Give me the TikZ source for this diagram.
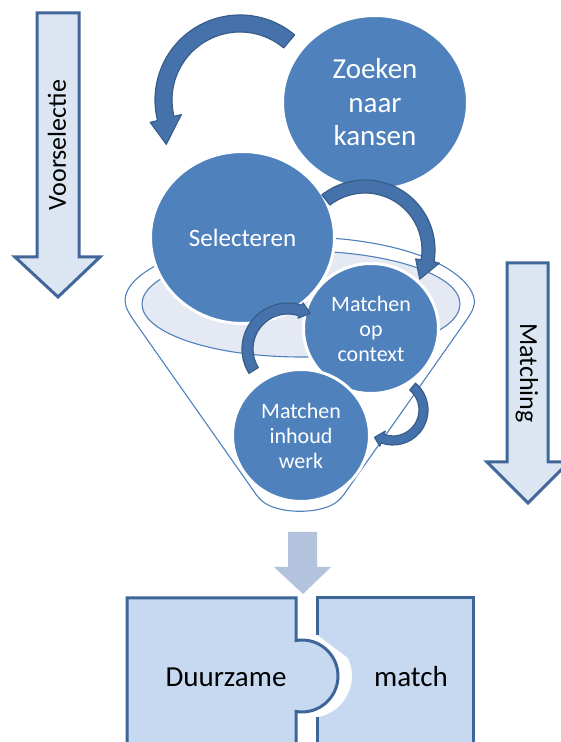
\documentclass[tikz,border=0pt]{standalone}
\usepackage{fontspec}
\setmainfont{Carlito}
\usetikzlibrary{shapes.geometric}

\definecolor{circblue}{HTML}{4F81BD}
\definecolor{arrowblue}{HTML}{4672AB}
\definecolor{arrowline}{HTML}{385D8A}
\definecolor{panelfill}{HTML}{DCE6F2}
\definecolor{panelline}{HTML}{41679A}
\definecolor{funnelfill}{HTML}{E4E9F3}
\definecolor{dropfill}{HTML}{B3C3DE}
\definecolor{piecefill}{HTML}{C6D9F1}
\definecolor{pieceline}{HTML}{3E6597}

\tikzset{
	pics/bend arrow/.style n args={7}{code={
		\filldraw[fill=arrowblue, draw=arrowline, line width=1.2pt, line join=round]
			(#4:{#1+#2}) arc[start angle=#4, end angle=#5, radius={#1+#2}]
			-- (#5:{#1+#3}) -- (#6:#7) -- (#5:{#1-#3}) -- (#5:{#1-#2})
			arc[start angle=#5, end angle=#4, radius={#1-#2}] -- cycle;
	}}
}

\begin{document}
\begin{tikzpicture}[x=1pt, y=1pt, line join=miter]
	  \tikzstyle{bubble}=[ellipse, fill=circblue, draw=white, line width=3pt, text=white, align=center, inner sep=0pt]
	  \tikzstyle{panel}=[fill=panelfill, draw=panelline, line width=3pt]
	  \tikzstyle{piece}=[fill=piecefill, draw=pieceline, line width=3pt]
	  \tikzstyle{funnel line}=[draw=circblue, line width=1.1pt]

	  \useasboundingbox (0,0) rectangle (561,742);

	  % side arrows
	  \filldraw[panel] (37,729) -- (79,729) -- (79,485) -- (100,485) -- (58,445) -- (15,485) -- (37,485) -- cycle;
	  \node[rotate=90, font=\fontsize{26}{30}\selectfont] (voor) at (57,597) {Voorselectie};
	  \filldraw[panel] (507,479) -- (548,479) -- (548,280) -- (569,280) -- (528,239) -- (487,280) -- (507,280) -- cycle;
	  \node[rotate=-90, font=\fontsize{26}{30}\selectfont] (matching) at (527,369) {Matching};

	  % funnel
	  \draw[funnel line, fill=white, rounded corners=6pt] (129.6,427.5)
	  		arc[start angle=190, end angle=-10, x radius=173, y radius=66]
	  		-- (340,242) .. controls (318,228) and (282,228) .. (260,242) -- cycle;
	  \draw[funnel line, fill=funnelfill] (301,438) ellipse[x radius=159, y radius=53];

	  \node[bubble, minimum width=185pt, minimum height=174pt, font=\fontsize{29}{33.5}\selectfont]
	  		(zoek) at (375,639.5) {Zoeken\\naar\\kansen};
	  \node[bubble, minimum width=184pt, minimum height=172pt, font=\fontsize{25}{30}\selectfont]
	  		(sel) at (242.5,504.5) {Selecteren};
	  \node[bubble, minimum width=135pt, minimum height=130pt, font=\fontsize{22}{25}\selectfont]
	  		(context) at (371,413.5) {Matchen\\op\\context};
	  \node[bubble, minimum width=137pt, minimum height=132pt, font=\fontsize{22}{25}\selectfont]
	  		(inhoud) at (301,306.5) {Matchen\\inhoud\\werk};

	  % curved arrows
	  \coordinate (c1) at (240,642);
	  \coordinate (c2) at (365,492);
	  \coordinate (c3) at (288,393);
	  \coordinate (c4) at (393,332);
	  \pic at (c1) {bend arrow={76.5}{8.5}{16}{50}{194}{211}{86}};
	  \pic at (c2) {bend arrow={63.5}{6.5}{12}{128}{-10}{-28}{62}};
	  \pic at (c3) {bend arrow={40.5}{5.5}{8}{212}{72}{58}{42}};
	  \pic at (c4) {bend arrow={30.5}{4.5}{8}{50}{-110}{-124}{33}};

	  % drop arrow
	  \fill[dropfill] (288,210) -- (317,210) -- (317,175) -- (331,175) -- (303,148) -- (274,175) -- (288,175) -- cycle;

	  % puzzle
	  \filldraw[piece] (127,-10) -- (127,144) -- (296,144) -- (296,101.5)
	  		arc[start angle=99.6, end angle=-99.6, radius=36] -- (296,-10) -- cycle;
	  \fill[piecefill] (317,-10) -- (317,24.6) arc[start angle=-80.4, end angle=80.4, radius=42]
	  		-- (317,144) -- (473,144) -- (473,-10) -- cycle;
	  \draw[piece] (317,107.4) -- (317,144) -- (473,144) -- (473,-10);
	  \draw[piece] (317,24.6) -- (317,-10);

	  \node[anchor=base, font=\fontsize{29}{33}\selectfont] (duur) at (226,55) {Duurzame};
	  \node[anchor=base, font=\fontsize{29}{33}\selectfont] (match) at (411,55) {match};
\end{tikzpicture}
\end{document}
